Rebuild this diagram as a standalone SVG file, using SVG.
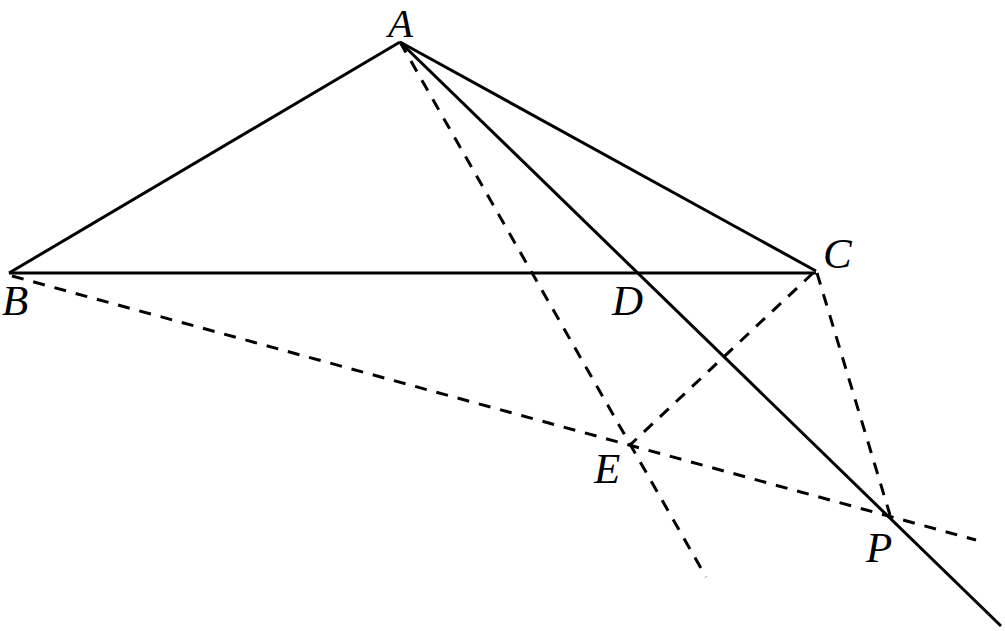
<svg xmlns="http://www.w3.org/2000/svg" width="1005" height="631" viewBox="0 0 1005 631">
<style>
.s{stroke:#000;stroke-width:3;fill:none;stroke-linecap:butt}
.d{stroke:#000;stroke-width:3;fill:none;stroke-dasharray:12 10}
.t{font-family:"Liberation Serif","DejaVu Serif",serif;font-style:italic;font-size:43px;fill:#000}
</style>
<rect width="1005" height="631" fill="#fff"/>
<g id="connectors">
<line class="s" x1="400" y1="42" x2="9" y2="273"/>
<line class="s" x1="400" y1="42" x2="816" y2="271"/>
<line class="s" x1="9" y1="273" x2="816" y2="273"/>
<line class="s" x1="400" y1="42" x2="1001" y2="626"/>
<line class="d" x1="400" y1="42" x2="706" y2="577"/>
<line class="d" x1="12" y1="276" x2="976" y2="540"/>
<line class="d" x1="813" y1="273" x2="630" y2="445"/>
<line class="d" x1="817" y1="273" x2="890" y2="515"/>
</g>
<g id="A"><text class="t" x="388" y="37" style="font-size:41px">A</text></g>
<g id="B"><text class="t" x="2" y="315">B</text></g>
<g id="C"><text class="t" x="823" y="268">C</text></g>
<g id="D"><text class="t" x="612" y="315">D</text></g>
<g id="E"><text class="t" x="594" y="483">E</text></g>
<g id="P"><text class="t" x="866" y="562">P</text></g>
</svg>
